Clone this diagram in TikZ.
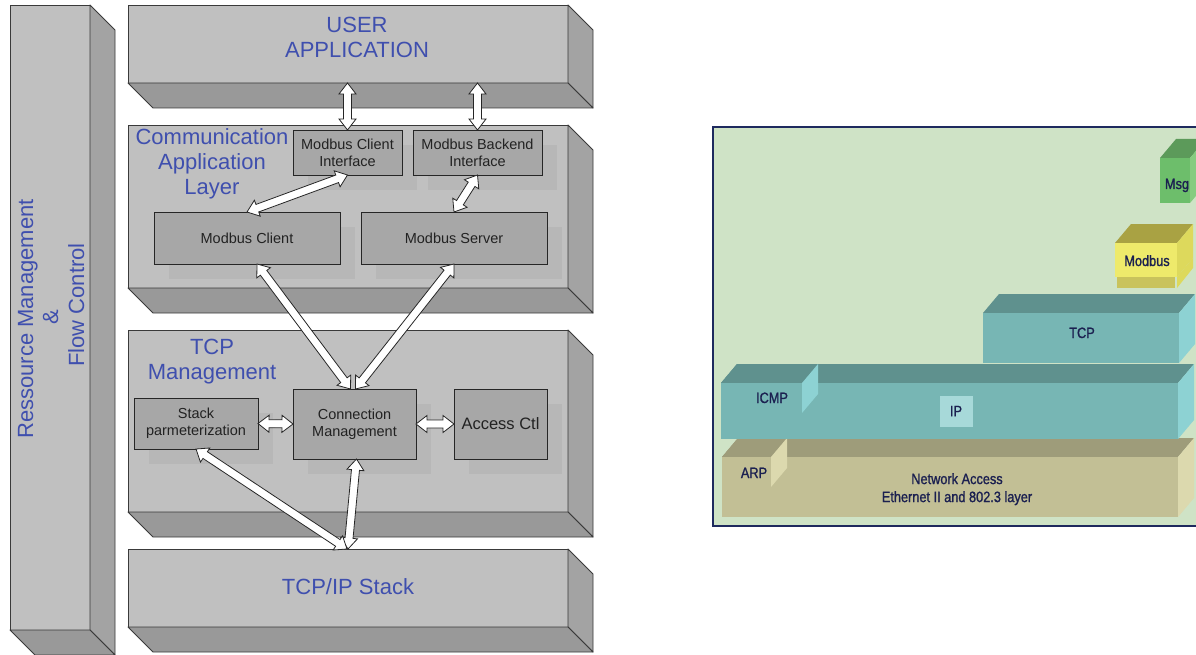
\documentclass[tikz,border=0pt]{standalone}
\usepackage{fontspec}
\setmainfont{Liberation Sans}
\newfontfamily\handfont[FakeStretch=0.85,FakeBold=1.2]{Liberation Sans}
\usetikzlibrary{calc,shadows}

% grey stack
\definecolor{facegray}{HTML}{C0C0C0}
\definecolor{sidegray}{HTML}{A3A3A3}
\definecolor{botgray}{HTML}{999999}
\definecolor{edgegray}{HTML}{3A3A3A}
\definecolor{innergray}{HTML}{A7A7A7}
\definecolor{shadegray}{HTML}{B7B7B7}
\definecolor{labelblue}{HTML}{3F4FAE}
\definecolor{boxtext}{HTML}{222222}
% layer panel
\definecolor{paneledge}{HTML}{1E2A5E}
\definecolor{panelbg}{HTML}{CFE3C6}
\definecolor{tanfront}{HTML}{C2BF95}
\definecolor{tantop}{HTML}{9E9C7A}
\definecolor{tanside}{HTML}{DCD9AE}
\definecolor{tealfront}{HTML}{77B6B4}
\definecolor{tealtop}{HTML}{5F918E}
\definecolor{tealside}{HTML}{8DD2D3}
\definecolor{iplabel}{HTML}{A7D9D9}
\definecolor{yelfront}{HTML}{EEEA6B}
\definecolor{yelband}{HTML}{C9C35C}
\definecolor{yeltop}{HTML}{A9A243}
\definecolor{yelside}{HTML}{DDD95C}
\definecolor{grnfront}{HTML}{6DBE6B}
\definecolor{grntop}{HTML}{5C9A5A}
\definecolor{grnside}{HTML}{86CC80}
\definecolor{handink}{HTML}{1B2050}

\tikzset{
  frontface/.style={draw=edgegray, fill=facegray, line width=0.9pt, inner sep=0pt, outer sep=0pt},
  sideface/.style={draw=edgegray, fill=sidegray, line width=0.9pt, line join=round},
  bottomface/.style={draw=edgegray, fill=botgray, line width=0.9pt, line join=round},
  bigtext/.style={text=labelblue, font=\fontsize{22}{25}\selectfont, align=center, inner sep=0pt},
  module/.style={draw=black!85, fill=innergray, line width=0.8pt, inner sep=0pt, outer sep=0pt,
    text=boxtext, align=center, font=\fontsize{14.5}{17}\selectfont,
    drop shadow={shadow xshift=15pt, shadow yshift=-15pt, fill=shadegray, opacity=1}},
  blockarrow/.style={draw=black!85, fill=white, line width=0.8pt, line join=miter},
  layerface/.style={inner sep=0pt, outer sep=0pt},
  handtext/.style={text=handink, font=\handfont\fontsize{15}{18}\selectfont, inner sep=0pt, align=center}
}

% extruded slab: name, x1, y1, x2, y2 (front face corners), depth to the lower right
\newcommand\slab[5]{%
  \node[frontface, anchor=north west, minimum width={#4-#2}, minimum height={#5-#3}] (#1) at (#2,#3) {};
  \draw[sideface] (#1.north east) -- ++(25,25) -- ($(#1.south east)+(25,25)$) -- (#1.south east) -- cycle;
  \draw[bottomface] (#1.south west) -- ($(#1.south west)+(25,25)$) -- ($(#1.south east)+(25,25)$) -- (#1.south east) -- cycle;
}

% white double block arrow between two points
\newcommand\dblarrow[2]{%
  \draw[blockarrow] let \p1=(#1), \p2=(#2),
      \n1={atan2(\y2-\y1,\x2-\x1)}, \n2={veclen(\x2-\x1,\y2-\y1)} in
    [shift={(\p1)}, rotate=\n1]
    (0,0) -- (11,8.5) -- (11,4) -- (\n2-11,4) -- (\n2-11,8.5) -- (\n2,0)
    -- (\n2-11,-8.5) -- (\n2-11,-4) -- (11,-4) -- (11,-8.5) -- cycle;
}

% layer block seen from above: name, x1, y1, x2, y2, front, top, side colours
\newcommand\layer[8]{%
  \fill[#7] (#2,#3) -- (#4,#3) -- ++(16,-19) -- ($(#2,#3)+(16,-19)$) -- cycle;
  \fill[#8] (#4,#3) -- ++(16,-19) -- ($(#4,#5)+(16,-19)$) -- (#4,#5) -- cycle;
  \node[layerface, fill=#6, anchor=north west, minimum width={#4-#2}, minimum height={#5-#3}] (#1) at (#2,#3) {};
}

\begin{document}
\begin{tikzpicture}[x=1pt, y=-1pt]
\useasboundingbox[fill=white] (0,0) rectangle (1196,655);

% ---------- Modbus TCP architecture ----------
\slab{rm}{10}{5}{90}{630}
\slab{ua}{128}{5}{568}{83}
\slab{cal}{128}{125}{568}{288}
\slab{tm}{128}{330}{568}{512}
\slab{ts}{128}{549}{568}{627}

\node[bigtext, rotate=90, anchor=base] (rmline1) at (33,319) {Ressource Management};
\node[bigtext, rotate=90, anchor=base] (rmline2) at (58,317) {\&};
\node[bigtext, rotate=90, anchor=base] (rmline3) at (84,305) {Flow Control};

\node[bigtext, anchor=north] (uatxt) at (357,17) {USER\\APPLICATION};
\node[bigtext, anchor=north] (caltxt) at (212,128) {Communication\\Application\\Layer};
\node[bigtext, anchor=north] (tmtxt) at (212,339) {TCP\\Management};
\node[bigtext, anchor=base] (tstxt) at (348,594) {TCP/IP Stack};

\node[module, minimum width=109, minimum height=45] (mci) at (347.5,152.5) {Modbus Client\\Interface};
\node[module, minimum width=129, minimum height=45] (mbi) at (477.5,152.5) {Modbus Backend\\Interface};
\node[module, minimum width=186, minimum height=52] (mc) at (247,238) {Modbus Client};
\node[module, minimum width=186, minimum height=52] (ms) at (454,238) {Modbus Server};
\node[module, minimum width=124, minimum height=51] (sp) at (196,423.5) {Stack\\parmeterization};
\node[module, minimum width=123, minimum height=70] (cm) at (354.5,424) {Connection\\Management};
\node[module, minimum width=93, minimum height=70, font=\fontsize{16.5}{19}\selectfont] (ac) at (500.5,424) {Access Ctl};

\dblarrow{mci.north |- ua.south}{mci.north}
\dblarrow{mbi.north |- ua.south}{mbi.north}
\dblarrow{mci.south}{mc.north}
\dblarrow{mbi.south}{ms.north}
\dblarrow{$(mc.south)+(10,0)$}{$(cm.north)+(-4,0)$}
\dblarrow{ms.south}{$(cm.north)+(1,0)$}
\dblarrow{sp.east}{cm.west}
\dblarrow{cm.east}{ac.west}
\dblarrow{$(cm.south)+(2,0)$}{ts.north}
\dblarrow{sp.south}{$(ts.north)+(-1,0)$}

% ---------- protocol layers ----------
\draw[paneledge, line width=2pt, fill=panelbg] (713,127) rectangle (1202,526);

\layer{netacc}{722}{457}{1178}{517}{tanfront}{tantop}{tanside}
\layer{arp}{722}{457}{771}{487}{tanfront}{tantop}{tanside}
\layer{ip}{721}{383}{1178}{439}{tealfront}{tealtop}{tealside}
\layer{icmp}{721}{383}{802}{413}{tealfront}{tealtop}{tealside}
\layer{tcp}{983}{313}{1179}{363}{tealfront}{tealtop}{tealside}
\fill[yelband] (1117,277) rectangle (1175,288);
\layer{modbus}{1115}{243}{1177}{277}{yelfront}{yeltop}{yelside}
\fill[yelside] (1177,277) -- (1193,258) -- (1193,268) -- (1177,288) -- cycle;
\layer{msg}{1160}{158}{1190}{203}{grnfront}{grntop}{grnside}

\node[handtext, anchor=north] (natxt) at (957,473) {Network Access\\Ethernet II and 802.3 layer};
\node[handtext, anchor=base] (arptxt) at (754,478) {ARP};
\node[handtext, anchor=base] (icmptxt) at (772,403) {ICMP};
\node[handtext, fill=iplabel, minimum width=33, minimum height=31] (iptxt) at (956,411) {IP};
\node[handtext, anchor=base] (tcptxt) at (1082,338) {TCP};
\node[handtext, anchor=base] (modbustxt) at (1147,266) {Modbus};
\node[handtext, anchor=base] (msgtxt) at (1177,189) {Msg};
\end{tikzpicture}
\end{document}
